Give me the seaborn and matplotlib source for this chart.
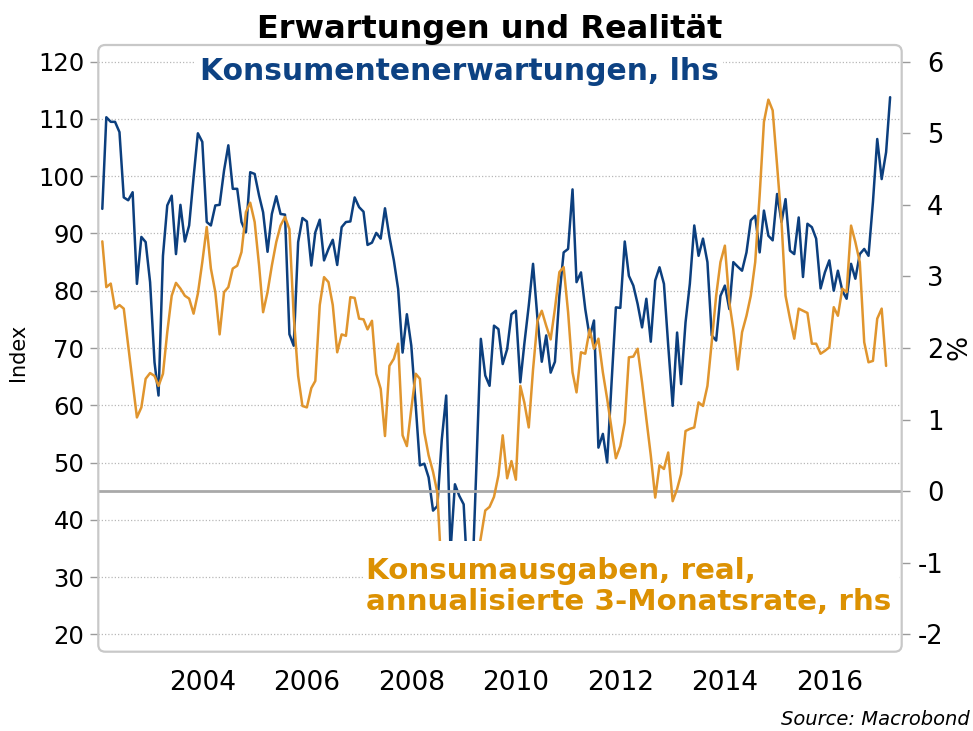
import numpy as np
import pandas as pd
import matplotlib
matplotlib.use("Agg")
import matplotlib.pyplot as plt
import matplotlib.patches as mpatches
from matplotlib.transforms import IdentityTransform
import seaborn as sns

# ---------------- data (monthly, first value = Feb 2002) ----------------
start_month = "2002-02-01"

# Consumer expectations index (lhs), Feb 2002 - Mar 2017
konsumentenerwartungen = [
    94.3, 110.3, 109.5, 109.5, 107.7, 96.3, 95.8, 97.2, 81.2, 89.4, 88.5,            # 2002
    81.5, 67.5, 61.7, 86.1, 94.9, 96.6, 86.4, 95.0, 88.6, 91.4, 99.8, 107.5,         # 2003
    106.0, 92.0, 91.4, 94.9, 95.0, 101.0, 105.4, 97.8, 97.8, 92.0, 90.2, 100.7,      # 2004
    100.4, 96.6, 93.7, 86.8, 93.4, 96.5, 93.4, 93.3, 72.4, 70.4, 88.5, 92.7,         # 2005
    92.1, 84.4, 90.2, 92.4, 85.3, 87.3, 88.9, 84.5, 91.1, 92.0, 92.1, 96.3,          # 2006
    94.6, 93.8, 88.0, 88.4, 90.1, 89.1, 94.4, 89.4, 85.3, 80.3, 69.2, 75.9,          # 2007
    70.4, 59.9, 49.5, 49.8, 47.4, 41.6, 42.4, 54.0, 61.7, 34.5, 46.2, 44.2,          # 2008
    42.7, 28.0, 28.5, 50.0, 71.6, 65.2, 63.4, 73.9, 73.3, 67.2, 69.8, 75.9,          # 2009
    76.5, 64.0, 70.7, 77.4, 84.7, 75.1, 67.6, 72.2, 65.7, 67.6, 79.1, 86.7,          # 2010
    87.3, 97.7, 81.5, 83.2, 76.8, 71.9, 74.8, 52.6, 55.0, 50.0, 64.0, 77.1,          # 2011
    77.0, 88.6, 82.6, 80.9, 77.7, 73.6, 78.6, 71.1, 81.8, 84.1, 81.2, 70.4,          # 2012
    59.9, 72.7, 63.7, 74.5, 81.2, 91.4, 86.1, 89.1, 85.0, 72.2, 71.3, 79.1,          # 2013
    80.9, 76.8, 85.0, 84.2, 83.5, 86.7, 92.3, 93.1, 86.7, 94.0, 89.6, 88.8,          # 2014
    96.9, 92.0, 96.0, 87.0, 86.4, 92.8, 82.4, 91.7, 91.1, 89.1, 80.4, 83.2,          # 2015
    85.3, 80.0, 83.5, 80.0, 78.6, 84.7, 82.1, 86.4, 87.3, 86.1, 95.5, 106.5,         # 2016
    99.5, 104.2, 113.8,                                                              # 2017
]

# Real consumer spending, annualised 3-month rate in % (rhs), Feb 2002 - Feb 2017
konsumausgaben = [
    3.49, 2.85, 2.90, 2.55, 2.60, 2.55, 2.03, 1.52, 1.03, 1.17, 1.57,                # 2002
    1.65, 1.61, 1.47, 1.64, 2.22, 2.73, 2.91, 2.83, 2.73, 2.69, 2.48, 2.76,          # 2003
    3.20, 3.69, 3.11, 2.78, 2.19, 2.78, 2.85, 3.11, 3.15, 3.34, 3.90, 4.03,          # 2004
    3.76, 3.15, 2.50, 2.78, 3.15, 3.48, 3.71, 3.83, 3.66, 2.45, 1.61, 1.19,          # 2005
    1.17, 1.44, 1.54, 2.60, 2.99, 2.92, 2.60, 1.94, 2.19, 2.17, 2.71, 2.70,          # 2006
    2.41, 2.40, 2.26, 2.38, 1.64, 1.43, 0.77, 1.75, 1.85, 2.06, 0.78, 0.63,          # 2007
    1.15, 1.64, 1.57, 0.82, 0.50, 0.27, -0.02, -1.20, -1.60, -1.80, -1.70, -1.80,    # 2008
    -1.60, -1.40, -1.30, -1.00, -0.65, -0.27, -0.22, -0.08, 0.22, 0.78, 0.18, 0.42,  # 2009
    0.16, 1.47, 1.24, 0.89, 1.70, 2.38, 2.52, 2.31, 2.12, 2.55, 3.06, 3.13,          # 2010
    2.50, 1.66, 1.38, 1.94, 1.92, 2.26, 1.99, 2.13, 1.66, 1.29, 0.87, 0.46,          # 2011
    0.63, 0.96, 1.87, 1.88, 1.99, 1.52, 1.01, 0.50, -0.09, 0.36, 0.31, 0.54,         # 2012
    -0.14, 0.03, 0.24, 0.84, 0.87, 0.89, 1.24, 1.19, 1.47, 2.08, 2.73, 3.20,         # 2013
    3.43, 2.64, 2.26, 1.70, 2.22, 2.45, 2.73, 3.20, 4.13, 5.16, 5.47, 5.32,          # 2014
    4.55, 3.76, 2.73, 2.41, 2.13, 2.55, 2.52, 2.49, 2.06, 2.06, 1.92, 1.96,          # 2015
    2.01, 2.57, 2.45, 2.83, 2.78, 3.71, 3.48, 3.20, 2.08, 1.80, 1.82, 2.41,          # 2016
    2.55, 1.75,                                                                      # 2017
]

left_ticks = [20, 30, 40, 50, 60, 70, 80, 90, 100, 110, 120]
right_ticks = [-2, -1, 0, 1, 2, 3, 4, 5, 6]
year_ticks = [2004, 2006, 2008, 2010, 2012, 2014, 2016]

title = "Erwartungen und Realität"
label_blue = "Konsumentenerwartungen, lhs"
label_orange = "Konsumausgaben, real,\nannualisierte 3-Monatsrate, rhs"
left_label = "Index"
right_label = "%"
source = "Source: Macrobond"

# ---------------- frames ----------------
df_blue = pd.DataFrame({
    "date": pd.date_range(start_month, periods=len(konsumentenerwartungen), freq="MS"),
    "value": konsumentenerwartungen,
})
df_orange = pd.DataFrame({
    "date": pd.date_range(start_month, periods=len(konsumausgaben), freq="MS"),
    "value": konsumausgaben,
})

# ---------------- style ----------------
sns.set_style("white")
plt.rcParams["font.family"] = ["DejaVu Sans"]

BLUE = "#0c3f7e"
BLUE_TXT = "#0d4283"
ORANGE = "#e0952e"
ORANGE_TXT = "#dc9102"
GRID = "#b8b8b8"
FRAME = "#c8c8c8"
TICK = "#9a9a9a"

W, H = 973, 731
fig = plt.figure(figsize=(W / 100, H / 100), dpi=100)
fig.patch.set_facecolor("white")

L, R, T, B = 98.3, 901.7, 45.0, 651.7
ax = fig.add_axes([L / W, 1 - B / H, (R - L) / W, (B - T) / H])
ax.set_facecolor("none")

# left axis scaling: 120 at y=61.7, 20 at y=634.3 ; right axis: 0 <-> 45, 1 unit = 12.5
ppu = (634.3 - 61.7) / 100.0
ylo = 20 - (B - 634.3) / ppu
yhi = 120 + (61.7 - T) / ppu
ax.set_ylim(ylo, yhi)

ax2 = ax.twinx()
ax2.set_ylim((ylo - 45) / 12.5, (yhi - 45) / 12.5)

# gridlines (left axis) and zero line (right axis)
for v in left_ticks:
    ax.axhline(v, color=GRID, lw=0.9, ls=(0, (1, 1.6)), zorder=0.5)
ax2.axhline(0, color="#a9a9a9", lw=2.0, zorder=1)

sns.lineplot(data=df_blue, x="date", y="value", ax=ax, color=BLUE, lw=1.8,
             zorder=3, legend=False)
sns.lineplot(data=df_orange, x="date", y="value", ax=ax2, color=ORANGE, lw=1.8,
             zorder=3, legend=False)

x0 = pd.Timestamp("2002-01-04")
x1 = pd.Timestamp("2017-05-21")
ax.set_xlim(x0, x1)
ax2.set_xlim(x0, x1)

ax.set_xticks([pd.Timestamp(f"{y}-01-01") for y in year_ticks])
ax.set_xticklabels([str(y) for y in year_ticks])
ax.set_yticks(left_ticks)
ax.set_yticklabels([str(v) for v in left_ticks])
ax2.set_yticks(right_ticks)
ax2.set_yticklabels([str(v) for v in right_ticks])

ax.set_xlabel("")
ax.set_ylabel("")
ax2.set_ylabel("")

ax.tick_params(axis="y", length=6, width=1, color=TICK, labelsize=17.5, pad=4,
               labelcolor="black")
ax.tick_params(axis="x", length=6, width=1, color=TICK, labelsize=19, pad=7,
               labelcolor="black")
ax2.tick_params(axis="y", length=6, width=1, color=TICK, labelsize=18.5, pad=24,
                labelcolor="black")
for lbl in ax2.get_yticklabels():
    lbl.set_horizontalalignment("right")

for a in (ax, ax2):
    for s in a.spines.values():
        s.set_visible(False)

# rounded frame around the plot area (pixel coordinates)
frame = mpatches.FancyBboxPatch((L, H - B), R - L, B - T,
                                boxstyle="round,pad=0,rounding_size=7",
                                transform=IdentityTransform(),
                                facecolor="none", edgecolor=FRAME, lw=1.6,
                                zorder=5)
fig.add_artist(frame)

# white box behind the orange label
cover = mpatches.Rectangle((363, H - 630), 899 - 363, 630 - 541,
                           transform=IdentityTransform(),
                           facecolor="white", edgecolor="none", zorder=4)
fig.add_artist(cover)

fig.text(490 / W, 1 - 38 / H, title, ha="center", va="baseline",
         fontsize=23, fontweight="bold", color="black", zorder=6)
fig.text(200 / W, 1 - 80 / H, label_blue, ha="left", va="baseline",
         fontsize=21.4, fontweight="bold", color=BLUE_TXT, zorder=6,
         bbox=dict(facecolor="white", edgecolor="none", pad=3))
fig.text(366 / W, 1 - 610 / H, label_orange, ha="left", va="baseline",
         fontsize=21.2, fontweight="bold", color=ORANGE_TXT, zorder=6,
         linespacing=1.15)
fig.text(18 / W, 1 - 352 / H, left_label, ha="center", va="center",
         rotation=90, fontsize=15, color="black")
fig.text(959 / W, 1 - 347 / H, right_label, ha="center", va="center",
         rotation=90, fontsize=19, color="black")
fig.text(970 / W, 1 - 725 / H, source, ha="right", va="baseline",
         fontsize=14, fontstyle="italic", color="black", zorder=6)

fig.savefig("out.png", dpi=100)
